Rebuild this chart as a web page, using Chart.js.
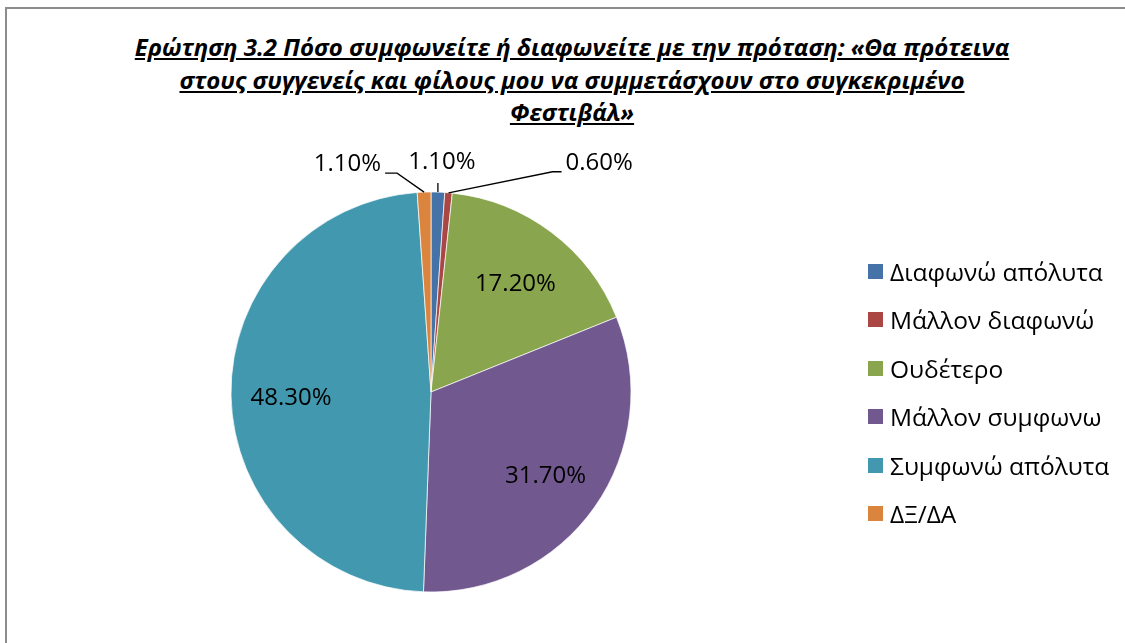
<!DOCTYPE html>
<html>
<head>
<meta charset="utf-8">
<script src="https://cdn.jsdelivr.net/npm/chart.js@4/dist/chart.umd.min.js"></script>
<style>
  html, body { margin: 0; padding: 0; background: #fff; width: 1125px; height: 643px; overflow: hidden; }
  #frame { position: absolute; left: 5px; top: 7px; width: 1200px; height: 700px;
           border-left: 2px solid #8c8c8c; border-top: 2px solid #8c8c8c; }
  #title { position: absolute; left: 22px; width: 1100px; top: 31px; text-align: center;
           font-family: "Open Sans", sans-serif; font-weight: bold; font-style: italic;
           font-size: 24px; line-height: 32.5px; text-decoration: underline; color: #000; }
  #c { position: absolute; left: 0; top: 0; }
  #legend { position: absolute; left: 868px; top: 247px; font-family: "Open Sans", sans-serif;
            font-size: 24.5px; color: #000; }
  #legend div { height: 48.5px; display: flex; align-items: center; white-space: nowrap; }
  #legend span.sw { display: inline-block; width: 15px; height: 15px; margin-right: 7px; }
</style>
</head>
<body>
<div id="frame"></div>
<div id="title"></div>
<canvas id="c" width="1125" height="643"></canvas>
<div id="legend"></div>
<script>
const titleLines = [
  "Ερώτηση 3.2 Πόσο συμφωνείτε ή διαφωνείτε με την πρόταση: «Θα πρότεινα",
  "στους συγγενείς και φίλους μου να συμμετάσχουν στο συγκεκριμένο",
  "Φεστιβάλ»"
];
const categories = ["Διαφωνώ απόλυτα", "Μάλλον διαφωνώ", "Ουδέτερο", "Μάλλον συμφωνω", "Συμφωνώ απόλυτα", "ΔΞ/ΔΑ"];
const values = [1.1, 0.6, 17.2, 31.7, 48.3, 1.1];
const colors = ["#4572A7", "#AA4643", "#89A54E", "#71588F", "#4198AF", "#DB843D"];

document.getElementById('title').innerHTML = titleLines.map(t => t.replace(/&/g,'&amp;').replace(/</g,'&lt;')).join('<br>');
const lg = document.getElementById('legend');
categories.forEach((c, i) => {
  const row = document.createElement('div');
  const sw = document.createElement('span');
  sw.className = 'sw'; sw.style.background = colors[i];
  row.appendChild(sw);
  row.appendChild(document.createTextNode(c));
  lg.appendChild(row);
});

// leader-line layout for small (outside) labels: elbow offset from arc edge, tail length
const outsideLayout = {
  0: { dx: 0, dy: -9, tail: 0, side: 'top' },
  1: { dx: 104, dy: -21, tail: 9, side: 'right' },
  5: { dx: -27, dy: -19, tail: -12, side: 'left' }
};

const labelPlugin = {
  id: 'pieLabels',
  afterDatasetsDraw(chart) {
    const ctx = chart.ctx;
    const meta = chart.getDatasetMeta(0);
    const data = chart.data.datasets[0].data;
    ctx.save();
    ctx.font = '24px "Open Sans", sans-serif';
    ctx.fillStyle = '#000';
    ctx.strokeStyle = '#000';
    ctx.lineWidth = 1.3;
    meta.data.forEach((arc, i) => {
      const p = arc.getProps(['x', 'y', 'startAngle', 'endAngle', 'outerRadius'], true);
      const mid = (p.startAngle + p.endAngle) / 2;
      const txt = data[i].toFixed(2) + '%';
      if (data[i] >= 5) {
        const f = 0.70;
        ctx.textAlign = 'center'; ctx.textBaseline = 'middle';
        ctx.fillText(txt, p.x + Math.cos(mid) * p.outerRadius * f, p.y + Math.sin(mid) * p.outerRadius * f + 4);
      } else {
        const L = outsideLayout[i] || { dx: 0, dy: -12, tail: 0, side: 'top' };
        const ax = p.x + Math.cos(mid) * p.outerRadius;
        const ay = p.y + Math.sin(mid) * p.outerRadius;
        const ex = ax + L.dx, ey = ay + L.dy;
        const tx = ex + L.tail;
        ctx.beginPath();
        ctx.moveTo(ax, ay); ctx.lineTo(ex, ey);
        if (L.tail) ctx.lineTo(tx, ey);
        ctx.stroke();
        ctx.textBaseline = 'middle';
        if (L.side === 'top') {
          ctx.textAlign = 'center';
          ctx.fillText(txt, ex + 4, ey - 21);
        } else if (L.side === 'right') {
          ctx.textAlign = 'left';
          ctx.fillText(txt, tx + 4, ey - 9);
        } else {
          ctx.textAlign = 'right';
          ctx.fillText(txt, tx - 4, ey - 9);
        }
      }
    });
    ctx.restore();
  }
};

new Chart(document.getElementById('c'), {
  type: 'pie',
  data: {
    labels: categories,
    datasets: [{ data: values, backgroundColor: colors, borderColor: '#ffffff', borderWidth: 0.7 }]
  },
  options: {
    responsive: false,
    animation: false,
    devicePixelRatio: 1,
    radius: 200,
    layout: { padding: { left: 221, right: 484, top: 182, bottom: 41 } },
    plugins: { legend: { display: false }, tooltip: { enabled: false }, title: { display: false } }
  },
  plugins: [labelPlugin]
});
</script>
</body>
</html>
